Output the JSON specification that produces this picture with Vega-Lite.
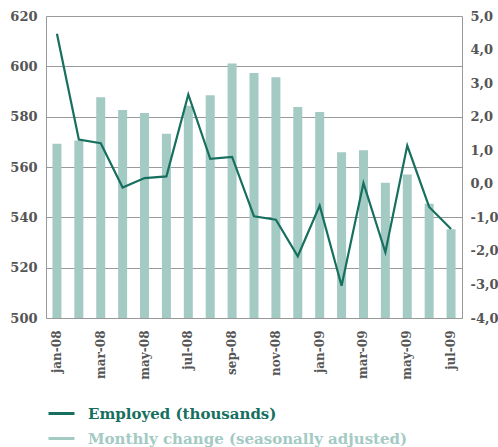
{
  "$schema": "https://vega.github.io/schema/vega-lite/v6.json",
  "autosize": {"type": "none"},
  "width": 416,
  "height": 302,
  "padding": {"left": 46, "top": 16, "right": 36, "bottom": 129},
  "config": {
    "view": {"stroke": null},
    "axis": {"labelFont": "DejaVu Serif", "labelFontWeight": "bold", "labelColor": "#555555", "labelFontSize": 13, "domainColor": "#999999", "gridColor": "#9a9a9a", "ticks": false, "title": null},
    "legend": {"labelFont": "DejaVu Serif", "labelFontWeight": "bold", "labelFontSize": 15, "labelLimit": 0, "padding": 0, "title": null}
  },
  "data": {"values": [
    {"month": "jan-08", "employed": 569.2, "change": 4.47},
    {"month": "feb-08", "employed": 570.5, "change": 1.32},
    {"month": "mar-08", "employed": 587.7, "change": 1.21},
    {"month": "apr-08", "employed": 582.6, "change": -0.11},
    {"month": "may-08", "employed": 581.5, "change": 0.17},
    {"month": "jun-08", "employed": 573.2, "change": 0.22},
    {"month": "jul-08", "employed": 584.3, "change": 2.66},
    {"month": "aug-08", "employed": 588.5, "change": 0.74},
    {"month": "sep-08", "employed": 601.1, "change": 0.8},
    {"month": "oct-08", "employed": 597.4, "change": -0.97},
    {"month": "nov-08", "employed": 595.7, "change": -1.07},
    {"month": "dec-08", "employed": 583.8, "change": -2.16},
    {"month": "jan-09", "employed": 581.9, "change": -0.65},
    {"month": "feb-09", "employed": 565.9, "change": -3.04},
    {"month": "mar-09", "employed": 566.7, "change": 0.02},
    {"month": "apr-09", "employed": 553.7, "change": -2.04},
    {"month": "may-09", "employed": 557.0, "change": 1.14},
    {"month": "jun-09", "employed": 545.4, "change": -0.69},
    {"month": "jul-09", "employed": 535.3, "change": -1.35}
  ]},
  "encoding": {
    "x": {"field": "month", "type": "ordinal", "sort": null,
      "axis": {"labelAngle": -90, "labelFontSize": 12, "labelPadding": 12, "grid": false,
        "values": ["jan-08", "mar-08", "may-08", "jul-08", "sep-08", "nov-08", "jan-09", "mar-09", "may-09", "jul-09"]}}
  },
  "layer": [
    {
      "mark": {"type": "bar", "size": 9, "clip": true},
      "encoding": {
        "y": {"field": "employed", "type": "quantitative", "scale": {"domain": [500, 620], "zero": false, "nice": false},
          "axis": {"orient": "left", "values": [500, 520, 540, 560, 580, 600, 620], "grid": true, "labelPadding": 9}},
        "y2": {"datum": 500},
        "fill": {"datum": "Monthly change (seasonally adjusted)", "type": "nominal",
          "scale": {"range": ["#a4cac4"]},
          "legend": {"orient": "none", "legendX": 1, "legendY": 408, "symbolType": "stroke", "symbolStrokeColor": "#a4cac4", "symbolStrokeWidth": 3, "symbolSize": 676, "labelColor": "#a4cac4", "labelOffset": 12}}
      }
    },
    {
      "mark": {"type": "line", "strokeWidth": 2.2, "clip": true},
      "encoding": {
        "y": {"field": "change", "type": "quantitative", "scale": {"domain": [-4, 5], "zero": false, "nice": false},
          "axis": {"orient": "right", "values": [-4, -3, -2, -1, 0, 1, 2, 3, 4, 5], "grid": false, "labelPadding": 8,
            "labelExpr": "(datum.value < 0 ? '-' : '') + abs(datum.value) + ',0'"}},
        "stroke": {"datum": "Employed (thousands)", "type": "nominal",
          "scale": {"range": ["#17705f"]},
          "legend": {"orient": "none", "legendX": 1, "legendY": 383, "symbolType": "stroke", "symbolStrokeWidth": 3, "symbolSize": 676, "labelColor": "#17705f", "labelOffset": 12}}
      }
    }
  ],
  "resolve": {"scale": {"y": "independent"}}
}
